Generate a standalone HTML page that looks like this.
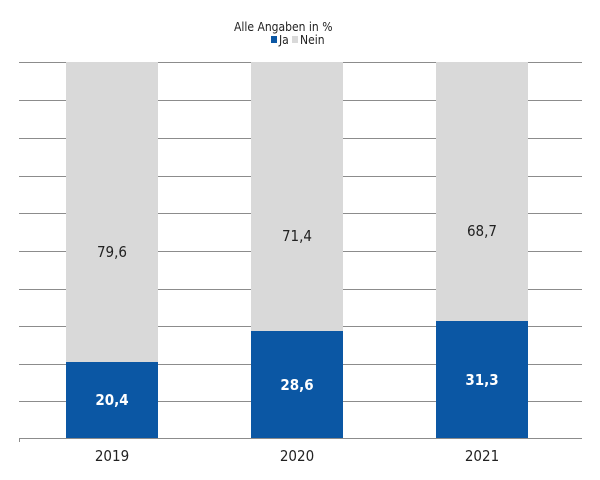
<!DOCTYPE html>
<html><head><style>body{margin:0;background:#fff}svg{display:block;font-family:"DejaVu Sans Condensed","Liberation Sans",sans-serif}</style></head><body>
<svg width="600" height="480" viewBox="0 0 600 480">
<g stroke="#8c8c8c" stroke-width="1">
<line x1="19" y1="62.5" x2="582" y2="62.5"/>
<line x1="19" y1="100.5" x2="582" y2="100.5"/>
<line x1="19" y1="138.5" x2="582" y2="138.5"/>
<line x1="19" y1="176.5" x2="582" y2="176.5"/>
<line x1="19" y1="213.5" x2="582" y2="213.5"/>
<line x1="19" y1="251.5" x2="582" y2="251.5"/>
<line x1="19" y1="289.5" x2="582" y2="289.5"/>
<line x1="19" y1="326.5" x2="582" y2="326.5"/>
<line x1="19" y1="364.5" x2="582" y2="364.5"/>
<line x1="19" y1="401.5" x2="582" y2="401.5"/>
<line x1="19" y1="438.5" x2="582" y2="438.5"/>
<line x1="19.5" y1="438" x2="19.5" y2="442"/>
</g>
<g fill="#d9d9d9">
<rect x="66" y="62" width="92" height="300"/>
<rect x="251" y="62" width="92" height="269"/>
<rect x="436" y="62" width="92" height="259"/>
</g>
<g fill="#0b57a4">
<rect x="66" y="362" width="92" height="76"/>
<rect x="251" y="331" width="92" height="107"/>
<rect x="436" y="321" width="92" height="117"/>
</g>
<g font-size="15" text-anchor="middle" fill="#222">
<text x="112" y="257">79,6</text>
<text x="297" y="241">71,4</text>
<text x="482" y="236">68,7</text>
<text x="112" y="461">2019</text>
<text x="297" y="461">2020</text>
<text x="482" y="461">2021</text>
</g>
<g font-size="15" text-anchor="middle" fill="#fff" font-weight="bold">
<text x="112" y="405">20,4</text>
<text x="297" y="390">28,6</text>
<text x="482" y="385">31,3</text>
</g>
<text x="234" y="31" font-size="12" fill="#222">Alle Angaben in %</text>
<rect x="271" y="36" width="6" height="7" fill="#0b57a4"/>
<text x="279" y="44" font-size="12" fill="#222">Ja</text>
<rect x="292" y="36" width="6" height="7" fill="#d9d9d9"/>
<text x="300" y="44" font-size="12" fill="#222">Nein</text>
</svg>
</body></html>
